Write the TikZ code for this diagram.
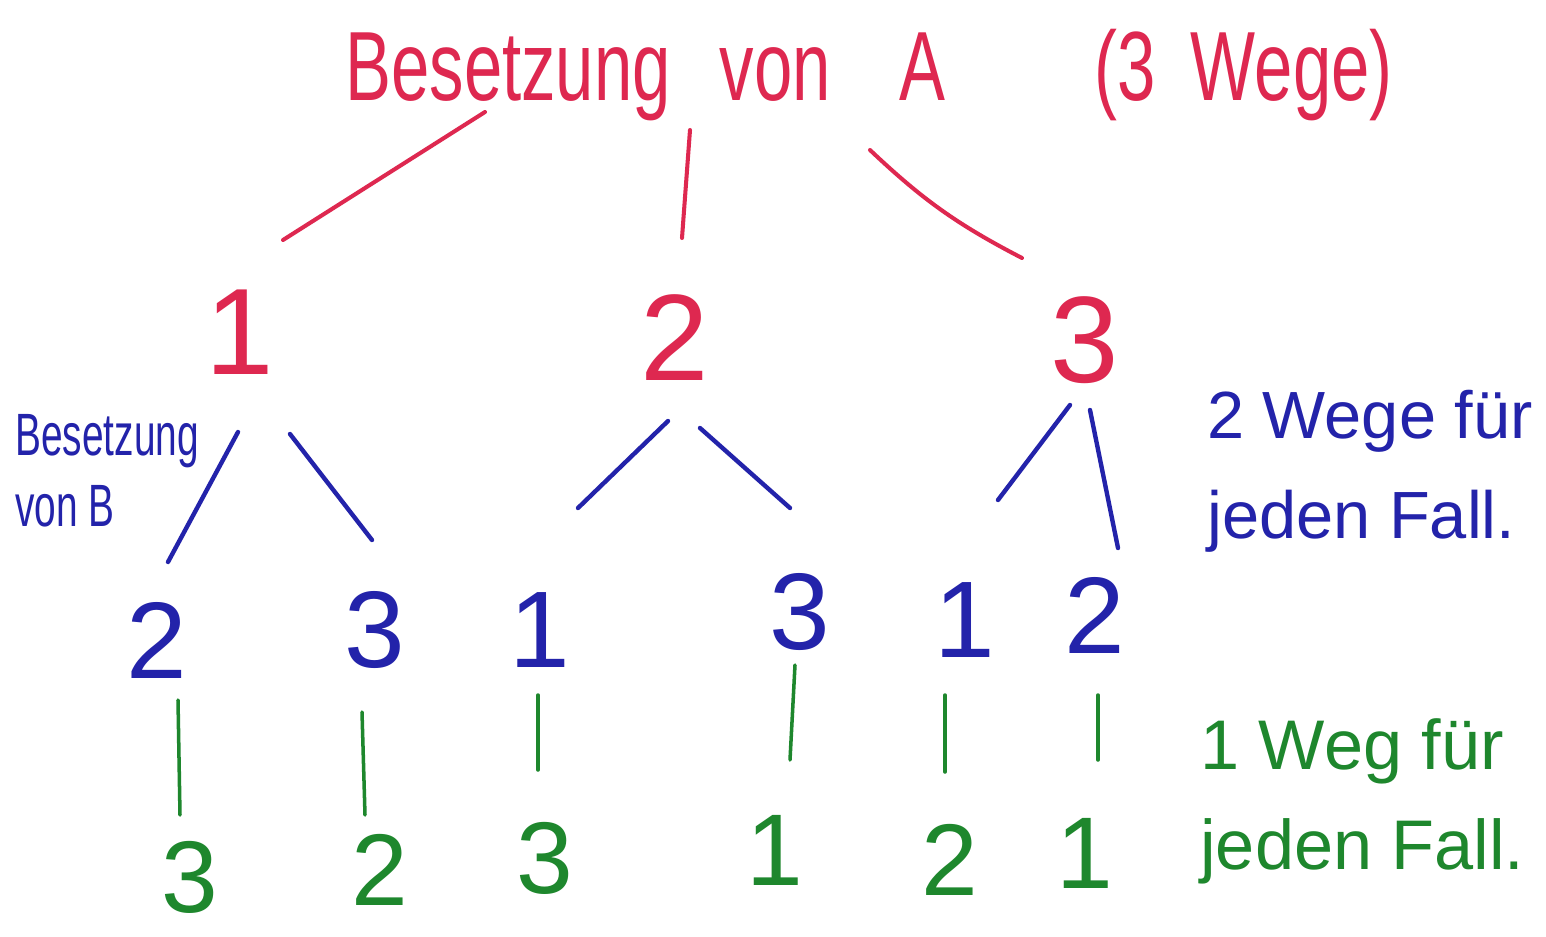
\documentclass[tikz,border=0pt]{standalone}
\usepackage{fontspec}
\setmainfont{Liberation Sans}
\definecolor{hred}{RGB}{222,40,80}
\definecolor{hblue}{RGB}{35,35,170}
\definecolor{hgreen}{RGB}{30,135,45}
\begin{document}
\begin{tikzpicture}[x=0.02cm,y=-0.02cm,
  redl/.style={draw=hred,line width=2.3pt,line cap=round},
  bluel/.style={draw=hblue,line width=2.5pt,line cap=round},
  greenl/.style={draw=hgreen,line width=2pt,line cap=round},
  rnum/.style={text=hred,inner sep=0pt,font=\fontsize{70}{70}\selectfont},
  bnum/.style={text=hblue,inner sep=0pt,font=\fontsize{62}{62}\selectfont},
  gnum/.style={text=hgreen,inner sep=0pt,font=\fontsize{58}{58}\selectfont},
  btext/.style={text=hblue,inner sep=0pt,align=left,font=\fontsize{38}{57}\selectfont},
  gtext/.style={text=hgreen,inner sep=0pt,align=left,font=\fontsize{40}{57}\selectfont}]
\useasboundingbox (0,0) rectangle (1546,937);
\fill[white] (0,0) rectangle (1546,937);
% title
\node[anchor=base west,inner sep=0pt,text=hred,font=\fontsize{56}{56}\selectfont] (title) at (345,100)
  {\scalebox{0.7}[1]{Besetzung\hspace{1.4cm}von\hspace{1.97cm}A\hspace{4.26cm}(3\hspace{1cm}Wege)}};
% level 1
\node[rnum] (n1) at (240,332) {1};
\node[rnum] (n2) at (675,338) {2};
\node[rnum] (n3) at (1085,340) {3};
\draw[redl] ([shift={(140,12)}]title.base west) -- ([shift={(43,-92)}]n1.center);
\draw[redl] ([shift={(345,30)}]title.base west) -- ([shift={(7,-100)}]n2.center);
\draw[redl] ([shift={(525,50)}]title.base west) to[bend right=8] ([shift={(-63,-82)}]n3.center);
% level 2
\node[bnum] (b1) at (157,640) {2};
\node[bnum] (b2) at (375,630) {3};
\node[bnum] (b3) at (540,630) {1};
\node[bnum] (b4) at (800,612) {3};
\node[bnum] (b5) at (965,620) {1};
\node[bnum] (b6) at (1095,615) {2};
\draw[bluel] ([shift={(-2,100)}]n1.center) -- ([shift={(11,-78)}]b1.center);
\draw[bluel] ([shift={(50,102)}]n1.center) -- ([shift={(-3,-90)}]b2.center);
\draw[bluel] ([shift={(-7,83)}]n2.center) -- ([shift={(38,-122)}]b3.center);
\draw[bluel] ([shift={(25,90)}]n2.center) -- ([shift={(-10,-104)}]b4.center);
\draw[bluel] ([shift={(-15,65)}]n3.center) -- ([shift={(33,-120)}]b5.center);
\draw[bluel] ([shift={(5,70)}]n3.center) -- ([shift={(23,-67)}]b6.center);
% level 3
\node[gnum] (g1) at (190,877) {3};
\node[gnum] (g2) at (380,870) {2};
\node[gnum] (g3) at (545,858) {3};
\node[gnum] (g4) at (775,850) {1};
\node[gnum] (g5) at (950,860) {2};
\node[gnum] (g6) at (1085,853) {1};
\draw[greenl] ([shift={(21,60)}]b1.center) -- ([shift={(-10,-62)}]g1.center);
\draw[greenl] ([shift={(-13,82)}]b2.center) -- ([shift={(-15,-55)}]g2.center);
\draw[greenl] ([shift={(-2,65)}]b3.center) -- ([shift={(-7,-88)}]g3.center);
\draw[greenl] ([shift={(-5,53)}]b4.center) -- ([shift={(15,-90)}]g4.center);
\draw[greenl] ([shift={(-20,75)}]b5.center) -- ([shift={(-5,-88)}]g5.center);
\draw[greenl] ([shift={(3,80)}]b6.center) -- ([shift={(13,-93)}]g6.center);
% side labels
\node[anchor=west,inner sep=0pt,text=hblue,font=\fontsize{34}{40}\selectfont] (lb) at (15,477)
  {\scalebox{0.65}[1]{\begin{tabular}{@{}l@{}}Besetzung\\von B\end{tabular}}};
\node[btext,anchor=west] (rb) at (1207,471) {2 Wege für\\jeden Fall.};
\node[gtext,anchor=west] (rg) at (1200,801) {1 Weg für\\jeden Fall.};
\end{tikzpicture}
\end{document}
